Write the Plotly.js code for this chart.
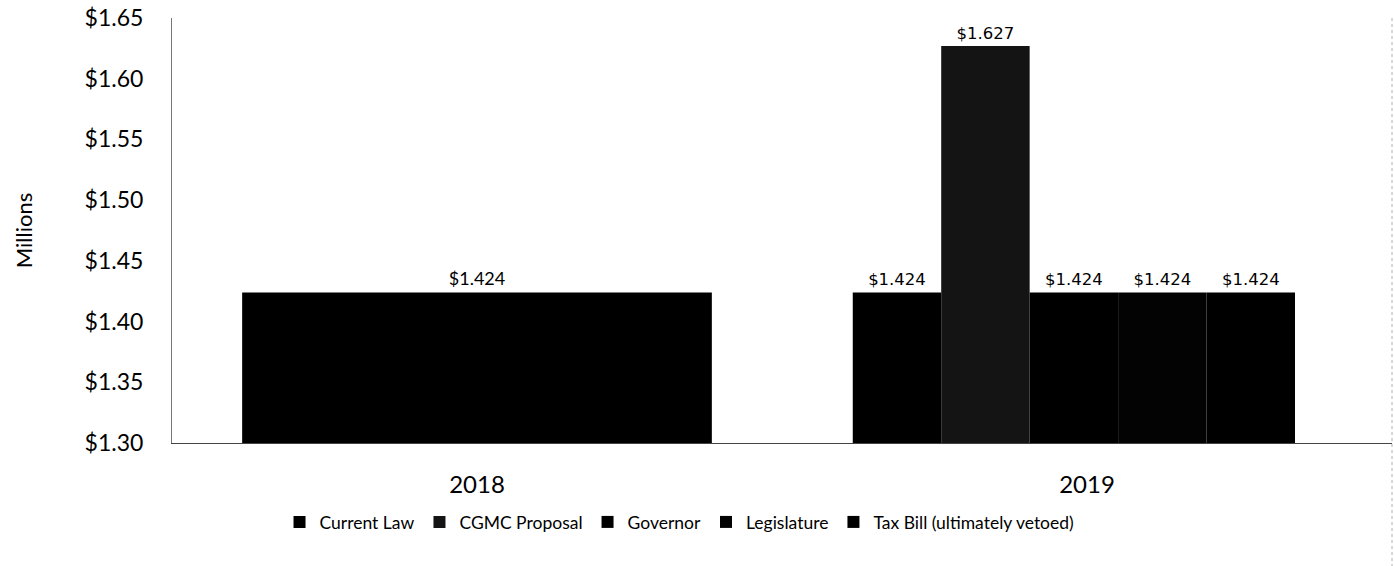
<!DOCTYPE html>
<html>
<head>
<meta charset="utf-8">
<script src="https://cdn.plot.ly/plotly-3.0.1.min.js"></script>
<style>html,body{margin:0;padding:0;background:#fff;}#chart{width:1394px;height:566px;}</style>
</head>
<body>
<div id="chart"></div>
<script>
var years = ['2018', '2019'];
var seriesNames = ['Current Law', 'CGMC Proposal', 'Governor', 'Legislature', 'Tax Bill (ultimately vetoed)'];
var currentLaw = [1.424, 1.424];
var cgmcProposal = [null, 1.627];
var governor = [null, 1.424];
var legislature = [null, 1.424];
var taxBill = [null, 1.424];
var yTickVals = [1.30, 1.35, 1.40, 1.45, 1.50, 1.55, 1.60, 1.65];
var yTickText = ['$1.30', '$1.35', '$1.40', '$1.45', '$1.50', '$1.55', '$1.60', '$1.65'];

var allValues = [currentLaw, cgmcProposal, governor, legislature, taxBill];
var barColors = ['#000000', '#141414', '#000000', '#030303', '#000000'];

// layout-only geometry (fractions of a category slot)
var w2019 = 0.145, start2019 = -0.384;
var w2018 = 0.77, start2018 = -0.385;

var traces = allValues.map(function (vals, i) {
  return {
    type: 'bar',
    name: seriesNames[i],
    x: years,
    y: vals,
    width: [w2018, w2019],
    offset: [start2018, start2019 + i * w2019],
    marker: {color: barColors[i], line: {width: 0}},
    texttemplate: '$%{y:.3f}',
    textposition: 'outside',
    cliponaxis: false,
    textfont: {
      family: i === 0 ? ['Lato, Liberation Sans, sans-serif', 'DejaVu Sans, sans-serif'] : 'DejaVu Sans, sans-serif',
      size: i === 0 ? [18, 16.5] : 16.5,
      color: '#000'
    },
    hoverinfo: 'name+y'
  };
});

var layout = {
  width: 1394,
  height: 566,
  margin: {l: 172, r: 2, t: 18, b: 123},
  paper_bgcolor: '#ffffff',
  plot_bgcolor: '#ffffff',
  barmode: 'overlay',
  showlegend: true,
  font: {family: 'Lato, Liberation Sans, sans-serif', color: '#000'},
  xaxis: {
    type: 'category',
    showgrid: false,
    zeroline: false,
    showline: true,
    linecolor: '#444',
    linewidth: 1,
    ticks: '',
    tickfont: {family: 'Lato, Liberation Sans, sans-serif', size: 24, color: '#000'},
    ticklabelstandoff: 20
  },
  yaxis: {
    range: [1.30, 1.65],
    tickvals: yTickVals,
    ticktext: yTickText,
    showgrid: false,
    zeroline: false,
    showline: true,
    linecolor: '#777',
    linewidth: 1,
    ticks: '',
    tickfont: {family: 'Lato, Liberation Sans, sans-serif', size: 23, color: '#000'},
    ticklabelstandoff: 23,
    title: {text: 'Millions', font: {family: 'Lato, Liberation Sans, sans-serif', size: 22, color: '#000'}, standoff: 45}
  },
  legend: {
    orientation: 'h',
    x: 0.416,
    xanchor: 'center',
    y: -0.186,
    yanchor: 'middle',
    font: {family: 'Lato, Liberation Sans, sans-serif', size: 17.5, color: '#000'},
    itemwidth: 30,
    tracegroupgap: 0
  },
  shapes: [{
    type: 'line', xref: 'paper', yref: 'paper',
    x0: 1, x1: 1, y0: 1, y1: -0.29,
    line: {color: '#b0b0b0', width: 1, dash: 'dot'}
  }]
};

Plotly.newPlot('chart', traces, layout, {displayModeBar: false, staticPlot: true});
</script>
</body>
</html>
